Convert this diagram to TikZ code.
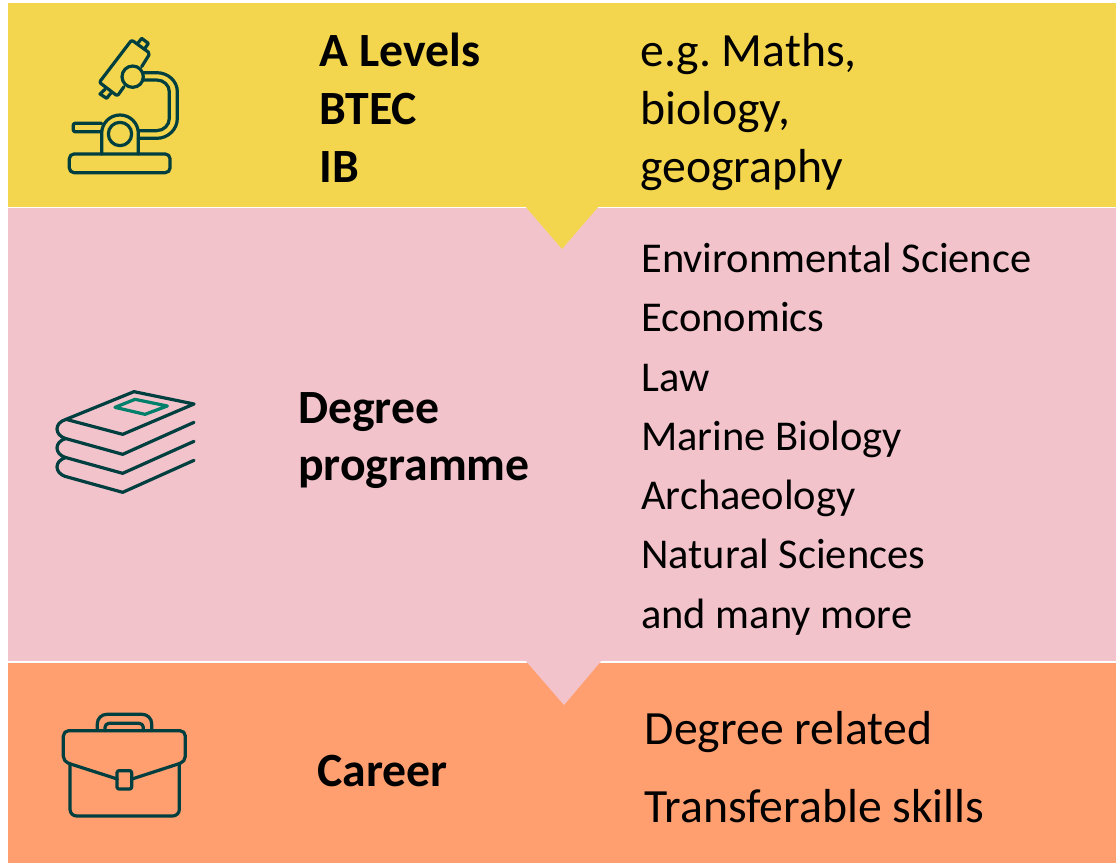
\documentclass[tikz,border=0pt]{standalone}
\usepackage{fontspec}
\setmainfont{Carlito}
\definecolor{bandyellow}{HTML}{F4D64E}
\definecolor{bandpink}{HTML}{F3C3CC}
\definecolor{bandorange}{HTML}{FF9F70}
\definecolor{icondark}{HTML}{003F3F}
\definecolor{icongreen}{HTML}{00806A}
\tikzset{heading/.style = {anchor=base west, inner sep=0pt, font=\fontsize{35.8}{42}\selectfont\bfseries},
         entry/.style = {anchor=base west, inner sep=0pt, font=\fontsize{35.8}{42}\selectfont},
         smallentry/.style = {anchor=base west, inner sep=0pt, font=\fontsize{31.85}{38}\selectfont},
         icon/.style = {draw=icondark, line width=2.4pt, line join=round, line cap=round}}

\begin{document}
\frenchspacing
\begin{tikzpicture}[x=0.75pt,y=-0.75pt]
    \useasboundingbox [fill=white] (0, 0) rectangle (1116, 863);
    \fill [bandyellow] (8, 3) rectangle (1116, 207);
    \fill [bandpink] (8, 208) rectangle (1116, 661);
    \fill [bandorange] (8, 663) rectangle (1116, 863);
    \fill [bandyellow] (525, 206) -- (599, 206) -- (562, 249) -- cycle;
    \fill [bandpink] (525, 660) -- (602, 660) -- (564, 705) -- cycle;

    \foreach \y/\t [count=\i] in {67/A Levels, 125/BTEC, 182/IB} {
      \node [heading] (qual\i) at (319.5, \y) {\t};
    }
    \foreach \y/\t [count=\i] in {67/{e.g. Maths,}, 125/{biology,}, 182/geography} {
      \node [entry] (subject\i) at (640, \y) {\t};
    }
    \node [heading] (degree) at (298, 423) {Degree};
    \node [heading] (programme) at (298, 480) {programme};
    \foreach \y/\t [count=\i] in {272/Environmental Science, 331/Economics, 391/Law, 450/Marine Biology, 509/Archaeology, 568/Natural Sciences, 628/and many more} {
      \node [smallentry] (course\i) at (641, \y) {\t};
    }
    \node [heading] (career) at (317, 786) {Career};
    \node [entry] (related) at (644.5, 744.5) {Degree related};
    \node [entry] (skills) at (644, 822) {Transferable skills};

    % microscope
    \begin{scope}[shift={(40, 20)}, scale=1/3]
      \draw [icon, rounded corners=1.5pt] (305, 140) -- (330, 100) -- (275, 60) -- (178, 187) -- (232, 228) -- (252, 200);
      \draw [icon] (295, 68) -- (305, 55) -- (325, 70) -- (315, 85);
      \draw [icon] (195, 208) -- (180, 222) -- (200, 235) -- (212, 220);
      \draw [icon] (278, 170) circle (32);
      \draw [icon] (312, 158) -- (350, 158) arc (-90:0:62 and 57) -- (412, 295) arc (0:90:62 and 60) -- (295, 355);
      \draw [icon] (312, 180) -- (350, 180) arc (-90:0:38 and 35) -- (388, 295) arc (0:90:38 and 37) -- (295, 332);
      \draw [icon, rounded corners=3.5pt] (88, 402) rectangle (390, 458);
      \draw [icon] (185, 402) -- (185, 340) arc (180:360:55) -- (295, 402);
      \draw [icon] (240, 342) circle (35);
      \draw [icon, rounded corners=1pt] (185, 310) -- (100, 310) -- (100, 335) -- (185, 335);
    \end{scope}

    % books
    \begin{scope}[shift={(40, 375)}, scale=1/3]
      \draw [icon] (78, 133) -- (282, 50) -- (462, 87) -- (248, 178) -- cycle;
      \draw [icon, draw=icongreen] (225, 97) -- (285, 73) -- (382, 93) -- (315, 118) -- cycle;
      \foreach \y in {0, 57, 114} {
        \draw [icon] (78, 133 + \y) .. controls (40, 145 + \y) and (45, 180 + \y) .. (75, 190 + \y) -- (248, 238 + \y) -- (462, 142 + \y);
      }
    \end{scope}

    % briefcase
    \begin{scope}[shift={(40, 700)}, scale=1/3]
      \draw [icon, rounded corners=4pt] (232, 237) -- (70, 185) -- (70, 92) -- (436, 92) -- (436, 185) -- (276, 237);
      \draw [icon, rounded corners=5pt] (90, 190) -- (90, 348) -- (418, 348) -- (418, 190);
      \draw [icon, rounded corners=1.5pt] (231, 212) rectangle (275, 267);
      \draw [icon, rounded corners=7pt] (172, 92) -- (172, 43) -- (335, 43) -- (335, 92);
      \draw [icon, rounded corners=3pt] (195, 92) -- (195, 70) -- (310, 70) -- (310, 92);
    \end{scope}
  \end{tikzpicture}
\end{document}
